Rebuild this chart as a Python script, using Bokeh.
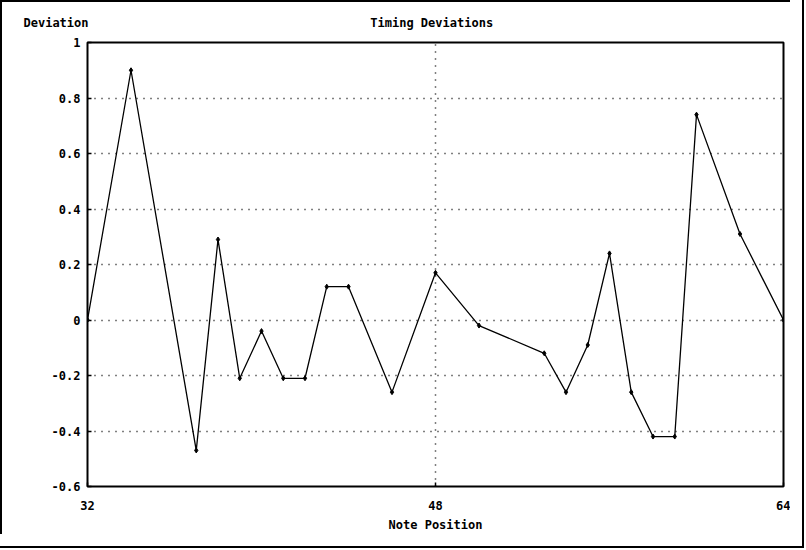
from bokeh.plotting import figure
from bokeh.models import FixedTicker, Range1d
from bokeh.embed import file_html
from bokeh.resources import INLINE

# Data
note_pos = [32, 34, 37, 38, 39, 40, 41, 42, 43, 44, 46, 48, 50, 53, 54, 55, 56, 57, 58, 59, 60, 62, 64]
deviation = [0.0, 0.90, -0.47, 0.29, -0.21, -0.04, -0.21, -0.21, 0.12, 0.12, -0.26, 0.17, -0.02,
             -0.12, -0.26, -0.09, 0.24, -0.26, -0.42, -0.42, 0.74, 0.31, 0.0]

x_ticks = [32, 48, 64]
y_ticks = [-0.6, -0.4, -0.2, 0.0, 0.2, 0.4, 0.6, 0.8, 1.0]
y_tick_labels = ["-0.6", "-0.4", "-0.2", "0", "0.2", "0.4", "0.6", "0.8", "1"]

title_text = "Timing Deviations"
y_title = "Deviation"
x_title = "Note Position"

FONT = "DejaVu Sans Mono"
NBSP = "\u00a0"

p = figure(width=790, height=534, output_backend="svg", toolbar_location=None,
           x_range=Range1d(32, 64), y_range=Range1d(-0.6, 1.0),
           min_border_left=87, min_border_right=7, min_border_top=41, min_border_bottom=47)

p.styles = {"outline": "2px solid black", "outline-offset": "12px",
            "box-shadow": "inset 2px 2px 0 0 black"}

p.outline_line_color = "black"
p.outline_line_width = 2
p.background_fill_color = "white"
p.border_fill_color = None

# one header line: y-axis title at the left, chart title centred (monospace spacing)
p.title.text = y_title + NBSP * 39 + title_text
p.title.align = "left"
p.title.offset = -64
p.title.text_font = FONT
p.title.text_font_style = "bold"
p.title.text_font_size = "12px"
p.title.text_color = "black"
p.title.standoff = 26

# axes
p.xaxis.ticker = FixedTicker(ticks=x_ticks)
p.yaxis.ticker = FixedTicker(ticks=y_ticks)
p.yaxis.major_label_overrides = {t: l for t, l in zip(y_ticks, y_tick_labels)}
p.xaxis.major_label_overrides = {t: str(t) for t in x_ticks}
for ax in (p.xaxis, p.yaxis):
    ax.axis_line_color = None
    ax.minor_tick_line_color = None
    ax.major_tick_line_color = "black"
    ax.major_tick_line_width = 1.5
    ax.major_tick_in = 4
    ax.major_tick_out = 0
    ax.major_label_text_font = FONT
    ax.major_label_text_font_style = "bold"
    ax.major_label_text_font_size = "12px"
    ax.major_label_text_color = "black"
p.yaxis.major_label_standoff = 7
p.xaxis.major_label_standoff = 14
p.xaxis.axis_label = x_title
p.xaxis.axis_label_text_font = FONT
p.xaxis.axis_label_text_font_style = "bold"
p.xaxis.axis_label_text_font_size = "12px"
p.xaxis.axis_label_text_color = "black"
p.xaxis.axis_label_standoff = 5

# grid
p.xgrid.ticker = FixedTicker(ticks=[48])
p.xgrid.grid_line_color = "black"
p.xgrid.grid_line_dash = "1 6"
p.xgrid.grid_line_width = 1.5
p.ygrid.grid_line_color = "black"
p.ygrid.grid_line_dash = "1 6"
p.ygrid.grid_line_width = 1.5

# series
p.line(note_pos, deviation, line_color="black", line_width=1.3)
p.scatter(note_pos, deviation, marker="diamond", size=5, fill_color="black", line_color="black")

open("out.html", "w").write(file_html(p, INLINE))
